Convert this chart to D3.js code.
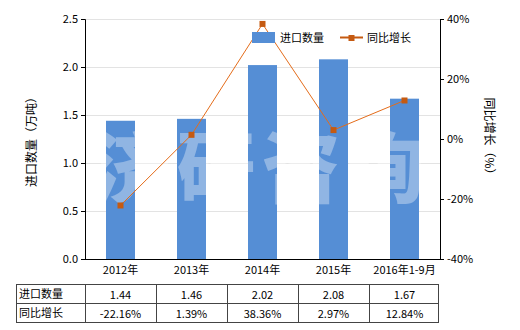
<!DOCTYPE html>
<html><head><meta charset="utf-8">
<script src="https://cdn.jsdelivr.net/npm/d3@7"></script>
<style>body{margin:0;background:#fff}svg{font-family:"Noto Sans CJK SC","Microsoft YaHei",sans-serif}</style>
</head><body><svg id="c" width="520" height="330"></svg>
<script>
const categories = ["2012年","2013年","2014年","2015年","2016年1-9月"];
const quantity = [1.44,1.46,2.02,2.08,1.67];
const growth = [-22.16,1.39,38.36,2.97,12.84];
const leftTicks = [0,0.5,1.0,1.5,2.0,2.5];
const rightTicks = [-40,-20,0,20,40];
const seriesNames = ["进口数量","同比增长"];

const svg = d3.select("#c");
const L=85, R=440, T=19, B=259;
const xc = d3.scaleBand().domain(categories).range([L,R]);
const y = d3.scaleLinear().domain([0,2.5]).range([B,T]);
const y2 = d3.scaleLinear().domain([-40,40]).range([B,T]);

// grid
svg.append("g").selectAll("line").data(leftTicks.slice(1)).join("line")
 .attr("x1",L).attr("x2",R).attr("y1",d=>y(d)+0.5).attr("y2",d=>y(d)+0.5)
 .attr("stroke","#e3e3e3");

// bars
svg.append("g").selectAll("rect").data(quantity).join("rect")
 .attr("x",(d,i)=>xc(categories[i])+xc.bandwidth()/2-14.5).attr("width",29)
 .attr("y",d=>y(d)).attr("height",d=>B-y(d)).attr("fill","#558ed5");

// watermark
svg.append("text").attr("x",92).attr("y",197)
 .attr("font-size",78).attr("font-weight",900).attr("fill","#ffffff").attr("fill-opacity",0.35)
 .attr("letter-spacing",7).text("济研咨询");

// line
const line = d3.line().x((d,i)=>xc(categories[i])+xc.bandwidth()/2).y(d=>y2(d));
svg.append("path").datum(growth).attr("d",line).attr("fill","none").attr("stroke","#e46c1a").attr("stroke-width",1);
svg.append("g").selectAll("rect").data(growth).join("rect")
 .attr("x",(d,i)=>xc(categories[i])+xc.bandwidth()/2-3).attr("y",d=>y2(d)-3)
 .attr("width",6).attr("height",6).attr("fill","#c55a11");

// axes
const ga = svg.append("g").attr("transform",`translate(${L},0)`)
 .call(d3.axisLeft(y).tickValues(leftTicks).tickFormat(d3.format(".1f")).tickSize(4));
const gb = svg.append("g").attr("transform",`translate(${R},0)`)
 .call(d3.axisRight(y2).tickValues(rightTicks).tickFormat(d=>d+"%").tickSize(4));
const gx = svg.append("g").attr("transform",`translate(0,${B})`)
 .call(d3.axisBottom(xc).tickSize(0));
[ga,gb,gx].forEach(g=>{g.selectAll("text").attr("font-size",11).attr("fill","#000")
  .attr("font-family","'Noto Sans CJK SC',sans-serif");
  g.selectAll("line,path").attr("stroke","#000");});
gx.selectAll("text").attr("dy","1.1em");
gx.select("path").attr("d",`M${L},0.5H${R}`);

// axis titles
svg.append("text").attr("transform","translate(36,139) rotate(-90)").attr("text-anchor","middle")
 .attr("font-size",12).text("进口数量（万吨）");
svg.append("text").attr("transform","translate(485,139) rotate(90)").attr("text-anchor","middle")
 .attr("font-size",12).text("同比增长（%）");

// legend
svg.append("rect").attr("x",252).attr("y",32).attr("width",23).attr("height",11).attr("fill","#558ed5");
svg.append("text").attr("x",280).attr("y",42).attr("font-size",11).text(seriesNames[0]);
svg.append("line").attr("x1",340).attr("x2",363).attr("y1",37.5).attr("y2",37.5).attr("stroke","#c55a11").attr("stroke-width",2);
svg.append("rect").attr("x",348.5).attr("y",35).attr("width",6).attr("height",6).attr("fill","#c55a11");
svg.append("text").attr("x",367).attr("y",42).attr("font-size",11).text(seriesNames[1]);

// table
const tL=16, tT=284, rowH=19;
const tg = svg.append("g").attr("stroke","#444").attr("fill","none");
tg.append("rect").attr("x",tL+0.5).attr("y",tT+0.5).attr("width",R-2-tL).attr("height",rowH*2);
tg.append("line").attr("x1",tL).attr("x2",R-2).attr("y1",tT+rowH+0.5).attr("y2",tT+rowH+0.5);
tg.selectAll("line.v").data(categories).join("line").attr("class","v")
 .attr("x1",d=>Math.round(xc(d))+0.5).attr("x2",d=>Math.round(xc(d))+0.5).attr("y1",tT).attr("y2",tT+rowH*2);
const rows=[quantity.map(d=>d.toFixed(2)), growth.map(d=>d.toFixed(2)+"%")];
rows.forEach((r,ri)=>{
  svg.append("text").attr("x",tL+3).attr("y",tT+rowH*ri+14).attr("font-size",11).text(seriesNames[ri]);
  svg.append("g").selectAll("text").data(r).join("text")
   .attr("x",(d,i)=>xc(categories[i])+xc.bandwidth()/2).attr("y",tT+rowH*ri+14.5)
   .attr("text-anchor","middle").attr("font-size",11).text(d=>d);
});
</script></body></html>
